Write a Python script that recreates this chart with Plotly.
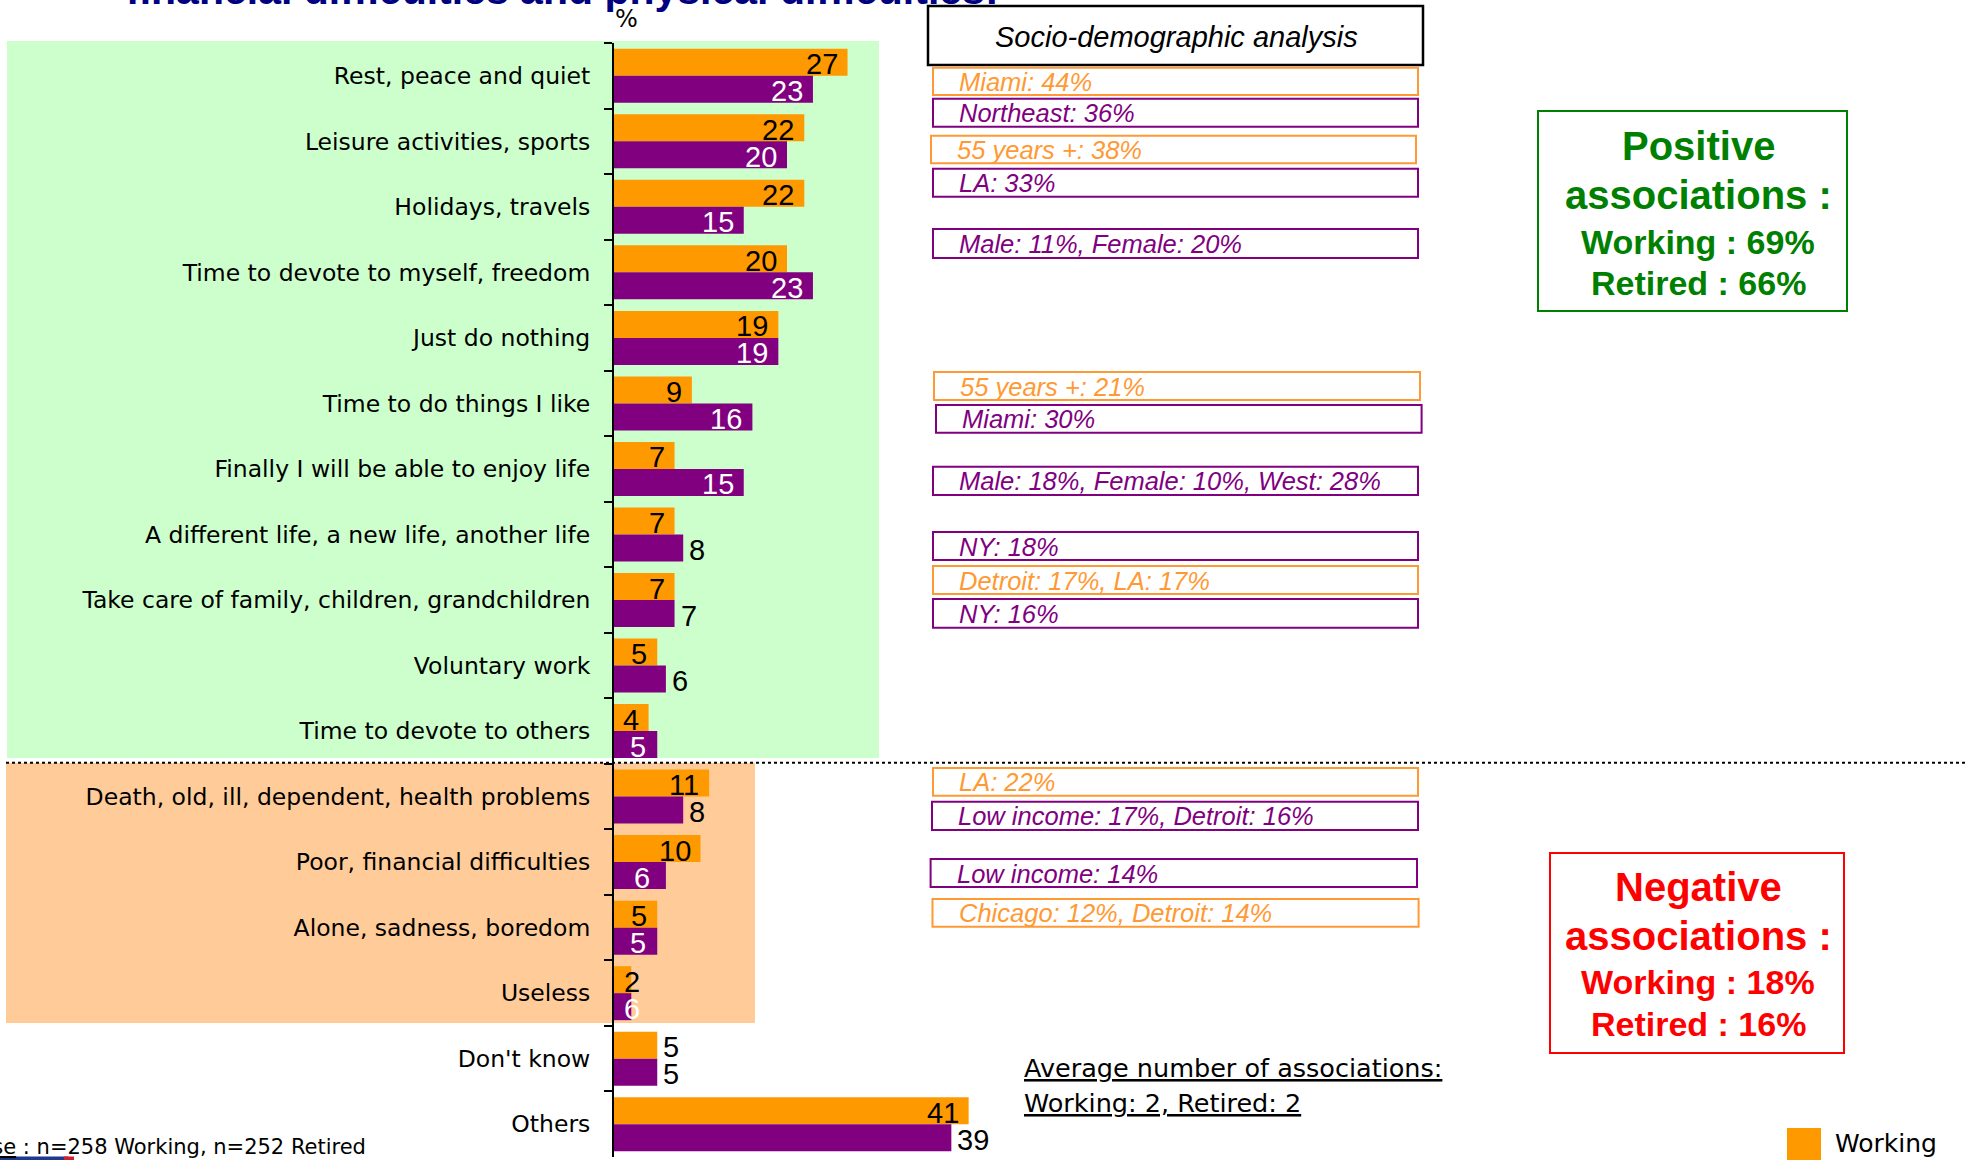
import plotly.graph_objects as go

# ---------------- data ----------------
categories = [
    "Rest, peace and quiet",
    "Leisure activities, sports",
    "Holidays, travels",
    "Time to devote to myself, freedom",
    "Just do nothing",
    "Time to do things I like",
    "Finally I will be able to enjoy life",
    "A different life, a new life, another life",
    "Take care of family, children, grandchildren",
    "Voluntary work",
    "Time to devote to others",
    "Death, old, ill, dependent, health problems",
    "Poor, financial difficulties",
    "Alone, sadness, boredom",
    "Useless",
    "Don't know",
    "Others",
]
working = [27, 22, 22, 20, 19, 9, 7, 7, 7, 5, 4, 11, 10, 5, 2, 5, 41]
retired = [23, 20, 15, 23, 19, 16, 15, 8, 7, 6, 5, 8, 6, 5, 2, 5, 39]
working_text = ["27", "22", "22", "20", "19", "9", "7", "7", "7", "5", "4", "11", "10", "5", "2", "5", "41"]
retired_text = ["23", "20", "15", "23", "19", "16", "15", "8", "7", "6", "5", "8", "6", "5", "6", "5", "39"]

# label placement styles (in = inside end, out = outside end, mid = centred, start = inside start)
working_pos = ["in"] * 14 + ["start", "out", "in"]
retired_pos = ["in", "in", "in", "in", "in", "in", "in", "out", "out", "out",
               "mid", "out", "mid", "mid", "start", "out", "out"]

socio_header = "Socio-demographic analysis"
socio_texts = [
    "Miami: 44%", "Northeast: 36%", "55 years +: 38%", "LA: 33%",
    "Male: 11%, Female: 20%", "55 years +: 21%", "Miami: 30%",
    "Male: 18%, Female: 10%, West: 28%", "NY: 18%", "Detroit: 17%, LA: 17%",
    "NY: 16%", "LA: 22%", "Low income: 17%, Detroit: 16%", "Low income: 14%",
    "Chicago: 12%, Detroit: 14%",
]
socio_series = ["W", "R", "W", "R", "R", "W", "R", "R", "R", "W", "R", "W", "R", "R", "W"]

positive_lines = ["Positive", "associations :", "Working : 69%", "Retired : 66%"]
negative_lines = ["Negative", "associations :", "Working : 18%", "Retired : 16%"]
average_lines = ["Average number of associations:", "Working: 2, Retired: 2"]
base_note = "<u>Base</u> : n=258 Working, n=252 Retired"
title_text = "financial difficulties and physical difficulties:"

# ---------------- styles / layout geometry ----------------
ORANGE = "#FF9900"
PURPLE = "#800080"
BOX_ORANGE = "#FF9933"
FIG_W, FIG_H = 1965, 1160
L, T, B = 614, 43, 3
W = FIG_W - L
H = FIG_H - T - B
PX_PER_UNIT = 8.65
XMAX = W / PX_PER_UNIT
BARGAP = 0.176
HALF = (1 - BARGAP) / 4  # offset of each bar centre from category centre


def px(x):
    return (x - L) / W


def py(y):
    return 1 - (y - T) / H


fig = go.Figure()
fig.add_trace(go.Bar(y=categories, x=working, orientation="h", name="Working",
                     marker=dict(color=ORANGE, line=dict(width=0)), showlegend=False,
                     hoverinfo="x+y"))
fig.add_trace(go.Bar(y=categories, x=retired, orientation="h", name="Retired",
                     marker=dict(color=PURPLE, line=dict(width=0)), showlegend=False,
                     hoverinfo="x+y"))

annotations = []
shapes = []

VAL_FONT = "Liberation Sans, Arial, sans-serif"
LAB_FONT = "DejaVu Sans, Verdana, sans-serif"


def value_label(i, v, txt, pos, yoff, inside_color):
    if pos == "in":
        x, xa, xs, col = v, "right", -8, inside_color
    elif pos == "out":
        x, xa, xs, col = v, "left", 4, "black"
    elif pos == "mid":
        x, xa, xs, col = v / 2, "center", 2, inside_color
    else:  # start
        x, xa, xs, col = 0, "left", 8, inside_color
    return dict(x=x, y=i + yoff, xref="x", yref="y", text=txt, showarrow=False,
                xanchor=xa, yanchor="middle", xshift=xs, yshift=-2,
                font=dict(family=VAL_FONT, size=29, color=col))


for i in range(len(categories)):
    annotations.append(value_label(i, working[i], working_text[i], working_pos[i], -HALF, "black"))
    annotations.append(value_label(i, retired[i], retired_text[i], retired_pos[i], HALF, "white"))

# background zones
shapes.append(dict(type="rect", xref="paper", yref="paper", x0=px(7), x1=px(879),
                   y0=py(758), y1=py(41), fillcolor="#CCFFCC", line=dict(width=0), layer="below"))
shapes.append(dict(type="rect", xref="paper", yref="paper", x0=px(6), x1=px(755),
                   y0=py(1023), y1=py(763), fillcolor="#FFCC99", line=dict(width=0), layer="below"))
# dotted separator
shapes.append(dict(type="line", xref="paper", yref="paper", x0=px(6), x1=px(1965),
                   y0=py(762.7), y1=py(762.7), line=dict(color="black", width=2, dash="dot")))

# socio-demographic header
shapes.append(dict(type="rect", xref="paper", yref="paper", x0=px(928), x1=px(1423),
                   y0=py(65), y1=py(6), line=dict(color="black", width=2.5), fillcolor="white"))
annotations.append(dict(x=px(1176), y=py(36.5), xref="paper", yref="paper",
                        text="<i>" + socio_header + "</i>", showarrow=False,
                        xanchor="center", yanchor="middle",
                        font=dict(family=VAL_FONT, size=29, color="black")))

socio_boxes = [  # (x0, x1, y0, y1) pixel geometry of each annotation box
    (933, 1418, 67.7, 95), (933, 1418, 98.7, 126.7), (931, 1416, 135.7, 163.3),
    (933, 1418, 168.7, 196.7), (933, 1418, 229, 258), (934, 1420, 372, 400),
    (936, 1421.6, 405, 432.7), (933, 1418, 466.7, 495), (933, 1418, 532, 560),
    (933, 1418, 566, 594), (933, 1418, 599, 627.7), (933, 1418, 768, 795.7),
    (932, 1418, 801.7, 830), (930.6, 1417, 859, 887), (932.5, 1418.6, 899, 926.7),
]
for txt, ser, (x0, x1, y0, y1) in zip(socio_texts, socio_series, socio_boxes):
    col = BOX_ORANGE if ser == "W" else PURPLE
    shapes.append(dict(type="rect", xref="paper", yref="paper", x0=px(x0), x1=px(x1),
                       y0=py(y1), y1=py(y0), line=dict(color=col, width=2)))
    annotations.append(dict(x=px(x0 + 24), y=py((y0 + y1) / 2 + 0.5), xref="paper", yref="paper",
                            text="<i>" + txt + "</i>", showarrow=False,
                            xanchor="left", yanchor="middle",
                            font=dict(family=VAL_FONT, size=25.5, color=col)))

# positive / negative boxes
shapes.append(dict(type="rect", xref="paper", yref="paper", x0=px(1538), x1=px(1847),
                   y0=py(311), y1=py(111), line=dict(color="#008000", width=2)))
for line, yc, sz in zip(positive_lines, [146.3, 195, 242, 283], [40, 40, 34, 34]):
    annotations.append(dict(x=px(1698), y=py(yc), xref="paper", yref="paper",
                            text="<b>" + line + "</b>", showarrow=False,
                            xanchor="center", yanchor="middle",
                            font=dict(family=VAL_FONT, size=sz, color="#008000")))
shapes.append(dict(type="rect", xref="paper", yref="paper", x0=px(1550), x1=px(1844),
                   y0=py(1053), y1=py(853), line=dict(color="#FF0000", width=2)))
for line, yc, sz in zip(negative_lines, [887, 936, 982, 1024], [40, 40, 34, 34]):
    annotations.append(dict(x=px(1698), y=py(yc), xref="paper", yref="paper",
                            text="<b>" + line + "</b>", showarrow=False,
                            xanchor="center", yanchor="middle",
                            font=dict(family=VAL_FONT, size=sz, color="#FF0000")))

# average number of associations
for line, yc in zip(average_lines, [1068, 1103]):
    annotations.append(dict(x=px(1022), y=py(yc), xref="paper", yref="paper",
                            text="<u>" + line + "</u>", showarrow=False,
                            xanchor="left", yanchor="middle",
                            font=dict(family=LAB_FONT, size=25.5, color="black")))

# "%" unit label
annotations.append(dict(x=px(613), y=py(19), xref="paper", yref="paper", text="%",
                        showarrow=False, xanchor="left", yanchor="middle",
                        font=dict(family=LAB_FONT, size=24, color="black")))

# title (cropped at top)
annotations.append(dict(x=px(124), y=py(-10), xref="paper", yref="paper",
                        text="<b>" + title_text + "</b>", showarrow=False,
                        xanchor="left", yanchor="middle",
                        font=dict(family=VAL_FONT, size=41, color="#000080")))

# base note (cropped at left)
annotations.append(dict(x=px(368), y=py(1147), xref="paper", yref="paper",
                        text=base_note, showarrow=False, xanchor="right", yanchor="middle",
                        font=dict(family=LAB_FONT, size=21, color="black")))
shapes.append(dict(type="rect", xref="paper", yref="paper", x0=px(0), x1=px(68),
                   y0=py(1161), y1=py(1156.5), fillcolor="#1F3A8A", line=dict(width=0)))
shapes.append(dict(type="rect", xref="paper", yref="paper", x0=px(64), x1=px(74),
                   y0=py(1161), y1=py(1156.5), fillcolor="#D02030", line=dict(width=0)))

# manual legend (only "Working" visible in the cropped view)
shapes.append(dict(type="rect", xref="paper", yref="paper", x0=px(1787), x1=px(1821),
                   y0=py(1162), y1=py(1128), fillcolor=ORANGE, line=dict(width=0)))
annotations.append(dict(x=px(1833), y=py(1143), xref="paper", yref="paper", text="Working",
                        showarrow=False, xanchor="left", yanchor="middle",
                        font=dict(family=LAB_FONT, size=25, color="black")))

fig.update_layout(
    width=FIG_W, height=FIG_H,
    margin=dict(l=L, r=0, t=T, b=B, autoexpand=False),
    paper_bgcolor="white", plot_bgcolor="rgba(0,0,0,0)",
    barmode="group", bargap=BARGAP, bargroupgap=0,
    shapes=shapes, annotations=annotations,
    xaxis=dict(range=[0, XMAX], visible=False, showgrid=False, zeroline=False, fixedrange=True),
    yaxis=dict(type="category", range=[len(categories) - 0.5, -0.5],
               showline=True, linecolor="black", linewidth=2,
               ticks="outside", tickson="boundaries", ticklen=8, tickwidth=2, tickcolor="black",
               ticklabelstandoff=17, showgrid=False, zeroline=False,
               tickfont=dict(family=LAB_FONT, size=23.5, color="black"), fixedrange=True),
    font=dict(family=LAB_FONT),
)

fig.write_html("out.html", config={"displayModeBar": False},
               post_script="document.body.style.margin='0';document.body.style.overflow='hidden';")
